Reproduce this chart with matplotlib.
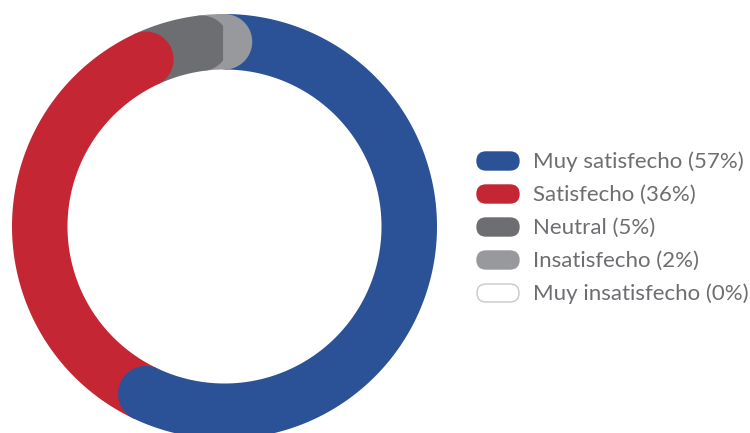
import matplotlib
matplotlib.use("Agg")
import matplotlib.pyplot as plt
import numpy as np
from matplotlib.patches import Polygon, FancyBboxPatch

# survey answers, clockwise from 12 o'clock
categories = ["Muy satisfecho", "Satisfecho", "Neutral", "Insatisfecho", "Muy insatisfecho"]
percentages = [57, 36, 5, 2, 0]
colors = ["#2b5197", "#c52633", "#6d6e71", "#98999c", "#ffffff"]

W, H = 750, 433
cx, cy = 224.5, H - 226.5
r_out, r_in = 212.5, 157.0
ring = r_out - r_in
r_mid = (r_out + r_in) / 2


def ring_point(r, deg):
    # deg is clockwise from 12 o'clock
    a = np.deg2rad(90 - deg)
    return cx + r * np.cos(a), cy + r * np.sin(a)


def cap(end, back=3):
    # round cap centred on the ring mid-line at angle `end`
    px, py = ring_point(r_mid, end)
    a = 90 - end
    t = np.deg2rad(np.linspace(a + back, a - 180 - back, 40))
    return np.column_stack([px + ring / 2 * np.cos(t), py + ring / 2 * np.sin(t)])


def segment(start, end):
    th = np.linspace(start, end, 200)
    outer = np.column_stack(ring_point(r_out, th))
    inner = np.column_stack(ring_point(r_in, th[::-1]))
    return np.vstack([outer, cap(end, back=0)[1:-1], inner])


fig = plt.figure(figsize=(W / 100, H / 100), dpi=100)
ax = fig.add_axes([0, 0, 1, 1])
ax.set_xlim(0, W)
ax.set_ylim(0, H)
ax.axis("off")

total = sum(percentages)
bounds = np.concatenate([[0], np.cumsum(percentages) / total * 360])
segs = [(bounds[i], bounds[i + 1], colors[i]) for i in range(len(percentages)) if percentages[i] > 0]

# draw last first so each rounded end sits on top of the next segment
for k, (s, e, col) in enumerate(reversed(segs)):
    ax.add_patch(Polygon(segment(s, e), closed=True, facecolor=col,
                         edgecolor="none", zorder=1 + k))
# the last rounded end overlaps the start of the first segment
s, e, col = segs[-1]
ax.add_patch(Polygon(cap(e), closed=True, facecolor=col, edgecolor="none",
                     zorder=1 + len(segs)))

# legend
lx, ly0, dy = 477, H - 161, 33
for i, (name, pct, col) in enumerate(zip(categories, percentages, colors)):
    y = ly0 - i * dy
    edge = "#c8c8c8" if col == "#ffffff" else col
    ax.add_patch(FancyBboxPatch((lx + 9, y), 42 - 18, 0.01,
                                boxstyle="round,pad=9", facecolor=col,
                                edgecolor=edge, lw=1))
    ax.text(533, y - 1, f"{name} ({pct}%)", fontsize=16, color="#6d6e71",
            family="Lato", va="center", ha="left")

fig.savefig("out.png", dpi=100)
